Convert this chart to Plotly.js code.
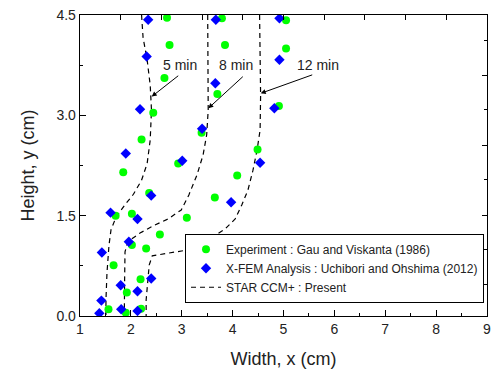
<!DOCTYPE html>
<html>
<head>
<meta charset="utf-8">
<script src="https://cdn.plot.ly/plotly-3.0.1.min.js"></script>
<style>html,body{margin:0;padding:0;background:#fff;}#chart{width:497px;height:369px;}</style>
</head>
<body>
<div id="chart"></div>
<script>
// Experiment : Gau and Viskanta (1986)
const expX = [2.71, 2.76, 2.66, 2.44, 2.21, 1.85, 2.36, 1.70, 2.02, 2.57, 2.02, 2.30, 1.66, 2.19, 1.92, 1.56, 2.20, 1.90,
              3.79, 3.85, 3.70, 3.39, 2.93, 3.10,
              5.05, 5.05, 4.91, 4.49, 4.09, 3.65];
const expY = [4.46, 4.05, 3.56, 3.04, 2.64, 2.15, 1.84, 1.50, 1.53, 1.22, 1.06, 1.01, 0.76, 0.55, 0.35, 0.10, 0.11, 0.05,
              4.45, 4.05, 3.32, 2.74, 2.28, 1.47,
              4.42, 4.00, 3.14, 2.49, 2.10, 1.77];
// X-FEM Analysis : Uchibori and Ohshima (2012)
const xfemX = [2.34, 2.31, 2.18, 1.90, 2.40, 1.60, 2.13, 1.96, 1.43, 2.40, 1.80, 2.13, 1.42, 1.81, 2.13, 1.38,
               3.67, 3.66, 3.40, 3.01, 3.36,
               4.92, 4.92, 4.82, 4.54, 3.97];
const xfemY = [4.43, 3.88, 3.09, 2.43, 1.80, 1.545, 1.45, 1.11, 0.95, 0.56, 0.46, 0.37, 0.23, 0.10, 0.075, 0.04,
               4.43, 3.48, 2.80, 2.32, 1.15,
               4.45, 3.83, 3.105, 2.29, 1.70];
// STAR CCM+ : Present (interface at 5, 8, 12 min)
const star5X  = [2.21, 2.24, 2.32, 2.38, 2.405, 2.38, 2.32, 2.21, 2.05, 1.88, 1.71, 1.61, 1.57, 1.53, 1.51, 1.51];
const star5Y  = [4.50, 4.16, 3.83, 3.45, 3.08, 2.63, 2.28, 2.03, 1.82, 1.66, 1.48, 1.29, 1.06, 0.64, 0.24, 0.00];
const star8X  = [3.51, 3.52, 3.49, 3.42, 3.30, 3.14, 2.99, 2.73, 2.47, 2.18, 1.94, 1.885, 1.877, 1.871, 1.871];
const star8Y  = [4.50, 3.08, 2.71, 2.41, 2.11, 1.81, 1.585, 1.45, 1.36, 1.24, 1.11, 0.96, 0.54, 0.24, 0.00];
const star12X = [4.53, 4.55, 4.54, 4.48, 4.40, 4.30, 4.18, 4.05, 3.85, 3.61, 3.36, 3.06, 2.71, 2.42, 2.36, 2.33, 2.30, 2.30];
const star12Y = [4.50, 3.30, 2.78, 2.48, 2.18, 1.88, 1.66, 1.45, 1.30, 1.18, 1.06, 0.98, 0.93, 0.90, 0.76, 0.46, 0.24, 0.00];

const timeLabels = ['5 min', '8 min', '12 min'];
const legendNames = ['Experiment : Gau and Viskanta (1986)', 'X-FEM Analysis : Uchibori and Ohshima (2012)', 'STAR CCM+ : Present'];
const xTopTicks = [1.8, 2.6, 3.4, 4.2, 5.0, 5.8, 6.6, 7.4, 8.2];
const yRightTicks = [3.60, 2.555, 1.51, 0.465];
const yRightMinor = [4.125, 3.08, 2.035, 0.99];

const FONT = 'Liberation Sans, Arial, sans-serif';
const lineStyle = {color: '#000', width: 1.2, dash: '5px,4px'};

const traces = [
  {x: star5X, y: star5Y, mode: 'lines', line: lineStyle, name: legendNames[2], legendgroup: 'star', legendrank: 3, showlegend: true, hoverinfo: 'skip'},
  {x: star8X, y: star8Y, mode: 'lines', line: lineStyle, name: legendNames[2], legendgroup: 'star', showlegend: false, hoverinfo: 'skip'},
  {x: star12X, y: star12Y, mode: 'lines', line: lineStyle, name: legendNames[2], legendgroup: 'star', showlegend: false, hoverinfo: 'skip'},
  {x: expX, y: expY, mode: 'markers', name: legendNames[0], legendrank: 1,
   marker: {symbol: 'circle', size: 8, color: '#00ff00', line: {width: 0}}},
  {x: xfemX, y: xfemY, mode: 'markers', name: legendNames[1], legendrank: 2,
   marker: {symbol: 'diamond', size: 8, color: '#0000ff', line: {width: 0}}},
  {x: [], y: [], xaxis: 'x2', yaxis: 'y2', mode: 'markers', showlegend: false, hoverinfo: 'skip'}
];

const tickFont = {family: FONT, size: 14, color: '#222'};
const layout = {
  width: 497, height: 369,
  margin: {l: 80, r: 10, t: 15, b: 53, pad: 0},
  paper_bgcolor: '#fff', plot_bgcolor: '#fff',
  font: {family: FONT, color: '#222'},
  showlegend: true,
  legend: {x: 0.258, y: 0.044, xanchor: 'left', yanchor: 'bottom', bgcolor: '#fff', bordercolor: '#000', borderwidth: 1,
           font: {family: FONT, size: 12, color: '#222'}, tracegroupgap: 0, traceorder: 'normal'},
  xaxis: {range: [1, 9], tick0: 1, dtick: 1, ticks: 'inside', ticklen: 6, tickwidth: 1, tickcolor: '#000',
          showline: true, linecolor: '#000', linewidth: 1.3, mirror: true, showgrid: false, zeroline: false,
          minor: {dtick: 0.5, ticks: 'inside', ticklen: 3, tickcolor: '#000', showgrid: false},
          tickfont: tickFont, title: {text: 'Width, x (cm)', font: {family: FONT, size: 18, color: '#222'}}},
  yaxis: {range: [0, 4.5], tick0: 0, dtick: 1.5, tickformat: '.1f', ticks: 'inside', ticklen: 6, tickwidth: 1, tickcolor: '#000',
          showline: true, linecolor: '#000', linewidth: 1.3, mirror: true, showgrid: false, zeroline: false,
          minor: {dtick: 0.75, ticks: 'inside', ticklen: 3, tickcolor: '#000', showgrid: false},
          tickfont: tickFont, title: {text: 'Height, y (cm)', font: {family: FONT, size: 18, color: '#222'}}},
  xaxis2: {overlaying: 'x', side: 'top', anchor: 'y2', range: [1, 9], tickmode: 'array', tickvals: xTopTicks,
           ticks: 'inside', ticklen: 5, tickcolor: '#000', showticklabels: false, showline: false, showgrid: false, zeroline: false},
  yaxis2: {overlaying: 'y', side: 'right', anchor: 'x2', range: [0, 4.5], tickmode: 'array', tickvals: yRightTicks,
           ticks: 'inside', ticklen: 5, tickcolor: '#000', showticklabels: false, showline: false, showgrid: false, zeroline: false,
           minor: {tickmode: 'array', tickvals: yRightMinor, ticks: 'inside', ticklen: 3, tickcolor: '#000'}},
  annotations: [
    {x: 2.956, y: 3.752, text: timeLabels[0], showarrow: false, font: {family: FONT, size: 14, color: '#222'}},
    {x: 4.066, y: 3.752, text: timeLabels[1], showarrow: false, font: {family: FONT, size: 14, color: '#222'}},
    {x: 5.678, y: 3.752, text: timeLabels[2], showarrow: false, font: {family: FONT, size: 14, color: '#222'}},
    {x: 2.41, y: 3.28, text: '', showarrow: true, ax: 28, ay: -22, arrowhead: 2, arrowsize: 1, arrowwidth: 1, arrowcolor: '#000'},
    {x: 3.522, y: 3.105, text: '', showarrow: true, ax: 36, ay: -33, arrowhead: 2, arrowsize: 1, arrowwidth: 1, arrowcolor: '#000'},
    {x: 4.552, y: 3.329, text: '', showarrow: true, ax: 53, ay: -19, arrowhead: 2, arrowsize: 1, arrowwidth: 1, arrowcolor: '#000'}
  ]
};

Plotly.newPlot('chart', traces, layout, {staticPlot: true, displayModeBar: false});
</script>
</body>
</html>
